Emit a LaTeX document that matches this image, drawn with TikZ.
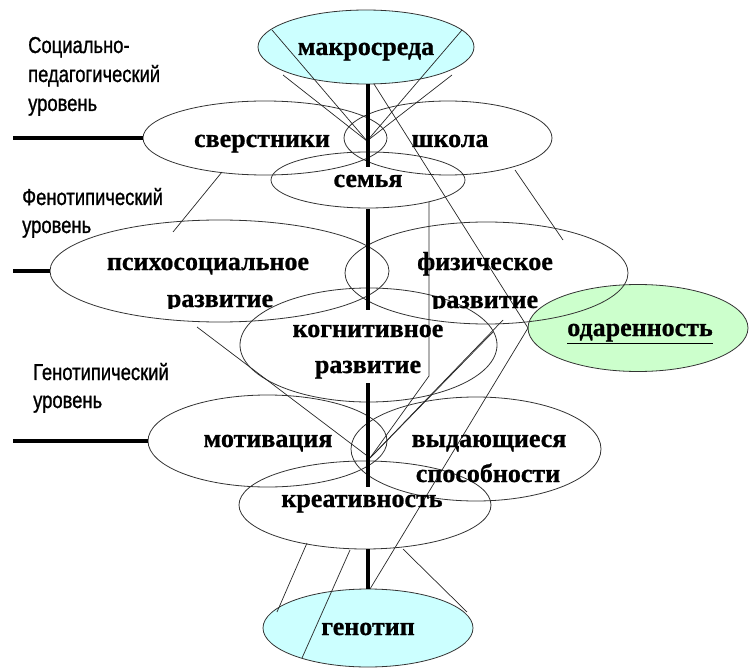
\documentclass[tikz,border=0pt]{standalone}
\usepackage{graphicx}
\usepackage{fontspec}
\setmainfont{Liberation Serif}[BoldFeatures={FakeBold=0.8}]
\newfontfamily\lsans{Liberation Sans}[FakeBold=1.2]
\usetikzlibrary{shapes.geometric}
\definecolor{cyanfill}{HTML}{CCFFFF}
\definecolor{greenfill}{HTML}{CCFFCC}
\begin{document}
\begin{tikzpicture}[x=1pt,y=-1pt,
  ell/.style={ellipse, draw=black!80, line width=0.8pt, inner sep=0pt},
  thinline/.style={draw=black!85, line width=0.7pt},
  axisline/.style={line width=4pt, draw=black},
  lvline/.style={line width=3.5pt, draw=black},
  lbl/.style={anchor=base, inner sep=0pt, font=\fontsize{26}{30}\selectfont\bfseries},
  side/.style={anchor=base west, inner sep=0pt, font=\lsans\fontsize{23}{28}\selectfont}]
\useasboundingbox (0,0) rectangle (749,668);

% ellipses
\node[ell, fill=cyanfill, minimum width=216pt, minimum height=74pt] (macro) at (366,47) {};
\node[ell, fill=greenfill, minimum width=220pt, minimum height=87pt] (gift) at (638,328) {};
\node[ell, fill=cyanfill, minimum width=210pt, minimum height=78pt] (geno) at (368,628) {};
\node[ell, minimum width=244pt, minimum height=74pt] (peers) at (265,138) {};
\node[ell, minimum width=208pt, minimum height=74pt] (school) at (448,138) {};
\node[ell, minimum width=194pt, minimum height=56pt] (family) at (368,180) {};
\node[ell, minimum width=339pt, minimum height=102pt] (psy) at (219.5,271) {};
\node[ell, minimum width=283pt, minimum height=102pt] (phys) at (486.5,273) {};
\node[ell, minimum width=257pt, minimum height=114pt] (cogn) at (368.5,345) {};
\node[ell, minimum width=239pt, minimum height=92pt] (motiv) at (267.5,441) {};
\node[ell, minimum width=250pt, minimum height=104pt] (abil) at (476,449) {};
\node[ell, minimum width=252pt, minimum height=88pt] (creat) at (365,505) {};

% coordinates
\coordinate (jt) at (367,141);
\coordinate (jb) at (370,458);
\coordinate (m1) at (272,30);
\coordinate (m2) at (283,75);
\coordinate (m3) at (462,30);
\coordinate (m4) at (452,75);
\coordinate (m5) at (374,84);
\coordinate (g1) at (528,328);
\coordinate (p1) at (222,172);
\coordinate (p2) at (173,232);
\coordinate (s1) at (515,170);
\coordinate (s2) at (563,240);
\coordinate (v1) at (429,202);
\coordinate (v2) at (429,376);
\coordinate (f1) at (503,320);
\coordinate (f2) at (493,332);
\coordinate (ps1) at (197,327);
\coordinate (gt) at (370,589);
\coordinate (c1) at (307,543);
\coordinate (c2) at (277,612);
\coordinate (c3) at (350,550);
\coordinate (c4) at (302,658);
\coordinate (c5) at (403,549);
\coordinate (c6) at (467,612);
\coordinate (a1) at (368,84);
\coordinate (a2) at (368,167);
\coordinate (a3) at (368,209);
\coordinate (a4) at (368,310);
\coordinate (a5) at (368,383);
\coordinate (a6) at (368,487);
\coordinate (a7) at (368,549);
\coordinate (a8) at (368,589);
\coordinate (h1) at (13,138);
\coordinate (h2) at (13,271);
\coordinate (h3) at (13,441);

% thin connectors
\draw[thinline] (m1) -- (jt);
\draw[thinline] (m2) -- (jt);
\draw[thinline] (m3) -- (jt);
\draw[thinline] (m4) -- (jt);
\draw[thinline] (m5) -- (g1);
\draw[thinline] (p1) -- (p2);
\draw[thinline] (s1) -- (s2);
\draw[thinline] (v1) -- (v2) -- (jb);
\draw[thinline] (f1) -- (jb);
\draw[thinline] (f2) -- (jb);
\draw[thinline] (ps1) -- (jb);
\draw[thinline] (g1) -- (gt);
\draw[thinline] (c1) -- (c2);
\draw[thinline] (c3) -- (c4);
\draw[thinline] (c5) -- (c6);

% thick axis
\draw[axisline] (a1) -- (a2);
\draw[axisline] (a3) -- (a4);
\draw[axisline] (a5) -- (a6);
\draw[axisline] (a7) -- (a8);

% level lines
\draw[lvline] (h1) -- (peers.west);
\draw[lvline] (h2) -- (psy.west);
\draw[lvline] (h3) -- (motiv.west);

% side labels
\node[side] (t1) at (28,53) {\scalebox{0.8}[1]{Социально-}};
\node[side] (t2) at (28,82) {\scalebox{0.8}[1]{педагогический}};
\node[side] (t3) at (28,111) {\scalebox{0.8}[1]{уровень}};
\node[side] (t4) at (22,205) {\scalebox{0.8}[1]{Фенотипический}};
\node[side] (t5) at (22,233) {\scalebox{0.8}[1]{уровень}};
\node[side] (t6) at (33,380) {\scalebox{0.8}[1]{Генотипический}};
\node[side] (t7) at (33,408) {\scalebox{0.8}[1]{уровень}};

% ellipse texts
\node[lbl] (tmacro) at (366,55) {макросреда};
\node[lbl] (tpeers) at (262,147) {сверстники};
\node[lbl] (tschool) at (450,147) {школа};
\node[lbl] (tfamily) at (368,187) {семья};
\node[lbl] (tpsy) at (208,270) {психосоциальное};
\node[lbl] (tphys) at (485,270) {физическое};
\begin{scope}
\clip (100,280) rectangle (620,308.5);
\node[lbl] (tpsy2) at (220,307) {развитие};
\node[lbl] (tphys2) at (485,308) {развитие};
\end{scope}
\node[lbl] (tcogn) at (368,337) {когнитивное};
\node[lbl] (tcogn2) at (368,373) {развитие};
\node[lbl] (tgift) at (640,336) {\underline{одаренность}};
\node[lbl] (tmotiv) at (268,447) {мотивация};
\node[lbl] (tabil) at (489,447) {выдающиеся};
\node[lbl] (tabil2) at (488,482) {способности};
\node[lbl] (tcreat) at (362,507) {креативность};
\node[lbl] (tgeno) at (368,635) {генотип};
\end{tikzpicture}
\end{document}
